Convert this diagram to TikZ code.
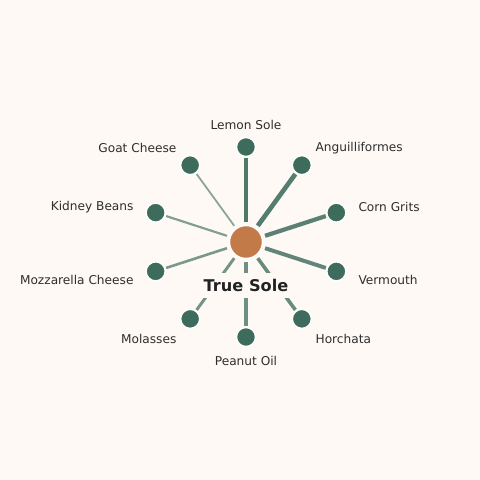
\documentclass[tikz,border=0pt]{standalone}
\usepackage{fontspec}
\setmainfont{DejaVu Sans}
\definecolor{paper}{HTML}{FEF9F5}
\definecolor{leafgreen}{HTML}{3D6B5C}
\definecolor{hubrust}{HTML}{C27A48}
\definecolor{inkgray}{HTML}{2E2E2E}
\definecolor{titleink}{HTML}{222222}

\begin{document}
\begin{tikzpicture}[x=0.025cm, y=0.025cm,
    leaf/.style={circle, fill=leafgreen, draw=white, line width=1pt,
      minimum size=0.475cm, inner sep=0pt, outer sep=1.1pt},
    hub/.style={circle, fill=hubrust, draw=white, line width=1pt,
      minimum size=0.825cm, inner sep=0pt, outer sep=2.5pt},
    tag/.style={text=inkgray, font=\fontsize{8.65}{10}\selectfont,
      inner sep=0pt, yshift=-0.8pt},
    spoke/.style={draw=leafgreen}]

    % background, hub sits at the origin
    \fill[paper] (-246,-238) rectangle (234,242);

    \node[hub] (sole) at (0,0) {};

    \node[leaf] (lemon) at (90:95) {};
    \node[leaf] (angu) at (54:95) {};
    \node[leaf] (grits) at (18:95) {};
    \node[leaf] (verm) at (-18:95) {};
    \node[leaf] (horch) at (-54:95) {};
    \node[leaf] (peanut) at (-90:95) {};
    \node[leaf] (molas) at (-126:95) {};
    \node[leaf] (mozza) at (-162:95) {};
    \node[leaf] (kidney) at (162:95) {};
    \node[leaf] (goat) at (126:95) {};

    \node[tag] (lemon-txt) at (90:118) {Lemon Sole};
    \node[tag, anchor=west] (angu-txt) at (54:118) {Anguilliformes};
    \node[tag, anchor=west] (grits-txt) at (18:118) {Corn Grits};
    \node[tag, anchor=west] (verm-txt) at (-18:118) {Vermouth};
    \node[tag, anchor=west] (horch-txt) at (-54:118) {Horchata};
    \node[tag] (peanut-txt) at (-90:118) {Peanut Oil};
    \node[tag, anchor=east] (molas-txt) at (-126:118) {Molasses};
    \node[tag, anchor=east] (mozza-txt) at (-162:118) {Mozzarella Cheese};
    \node[tag, anchor=east] (kidney-txt) at (162:118) {Kidney Beans};
    \node[tag, anchor=east] (goat-txt) at (126:118) {Goat Cheese};

    \draw[spoke, line width=3.5pt, draw opacity=0.9] (sole)--(lemon);
    \draw[spoke, line width=3.3pt, draw opacity=0.87] (sole)--(angu);
    \draw[spoke, line width=3.0pt, draw opacity=0.84] (sole)--(grits);
    \draw[spoke, line width=2.8pt, draw opacity=0.81] (sole)--(verm);
    \draw[spoke, line width=2.55pt, draw opacity=0.77] (sole)--(horch);
    \draw[spoke, line width=2.3pt, draw opacity=0.74] (sole)--(peanut);
    \draw[spoke, line width=2.1pt, draw opacity=0.71] (sole)--(molas);
    \draw[spoke, line width=1.85pt, draw opacity=0.68] (sole)--(mozza);
    \draw[spoke, line width=1.55pt, draw opacity=0.64] (sole)--(kidney);
    \draw[spoke, line width=1.25pt, draw opacity=0.6] (sole)--(goat);

    \node[fill=paper,
      minimum height=0.625cm,
      inner xsep=2pt,
      text=titleink,
      font=\fontsize{11.5}{13}\selectfont\bfseries] (title) at (0,-43.5) {True Sole};
\end{tikzpicture}
\end{document}
